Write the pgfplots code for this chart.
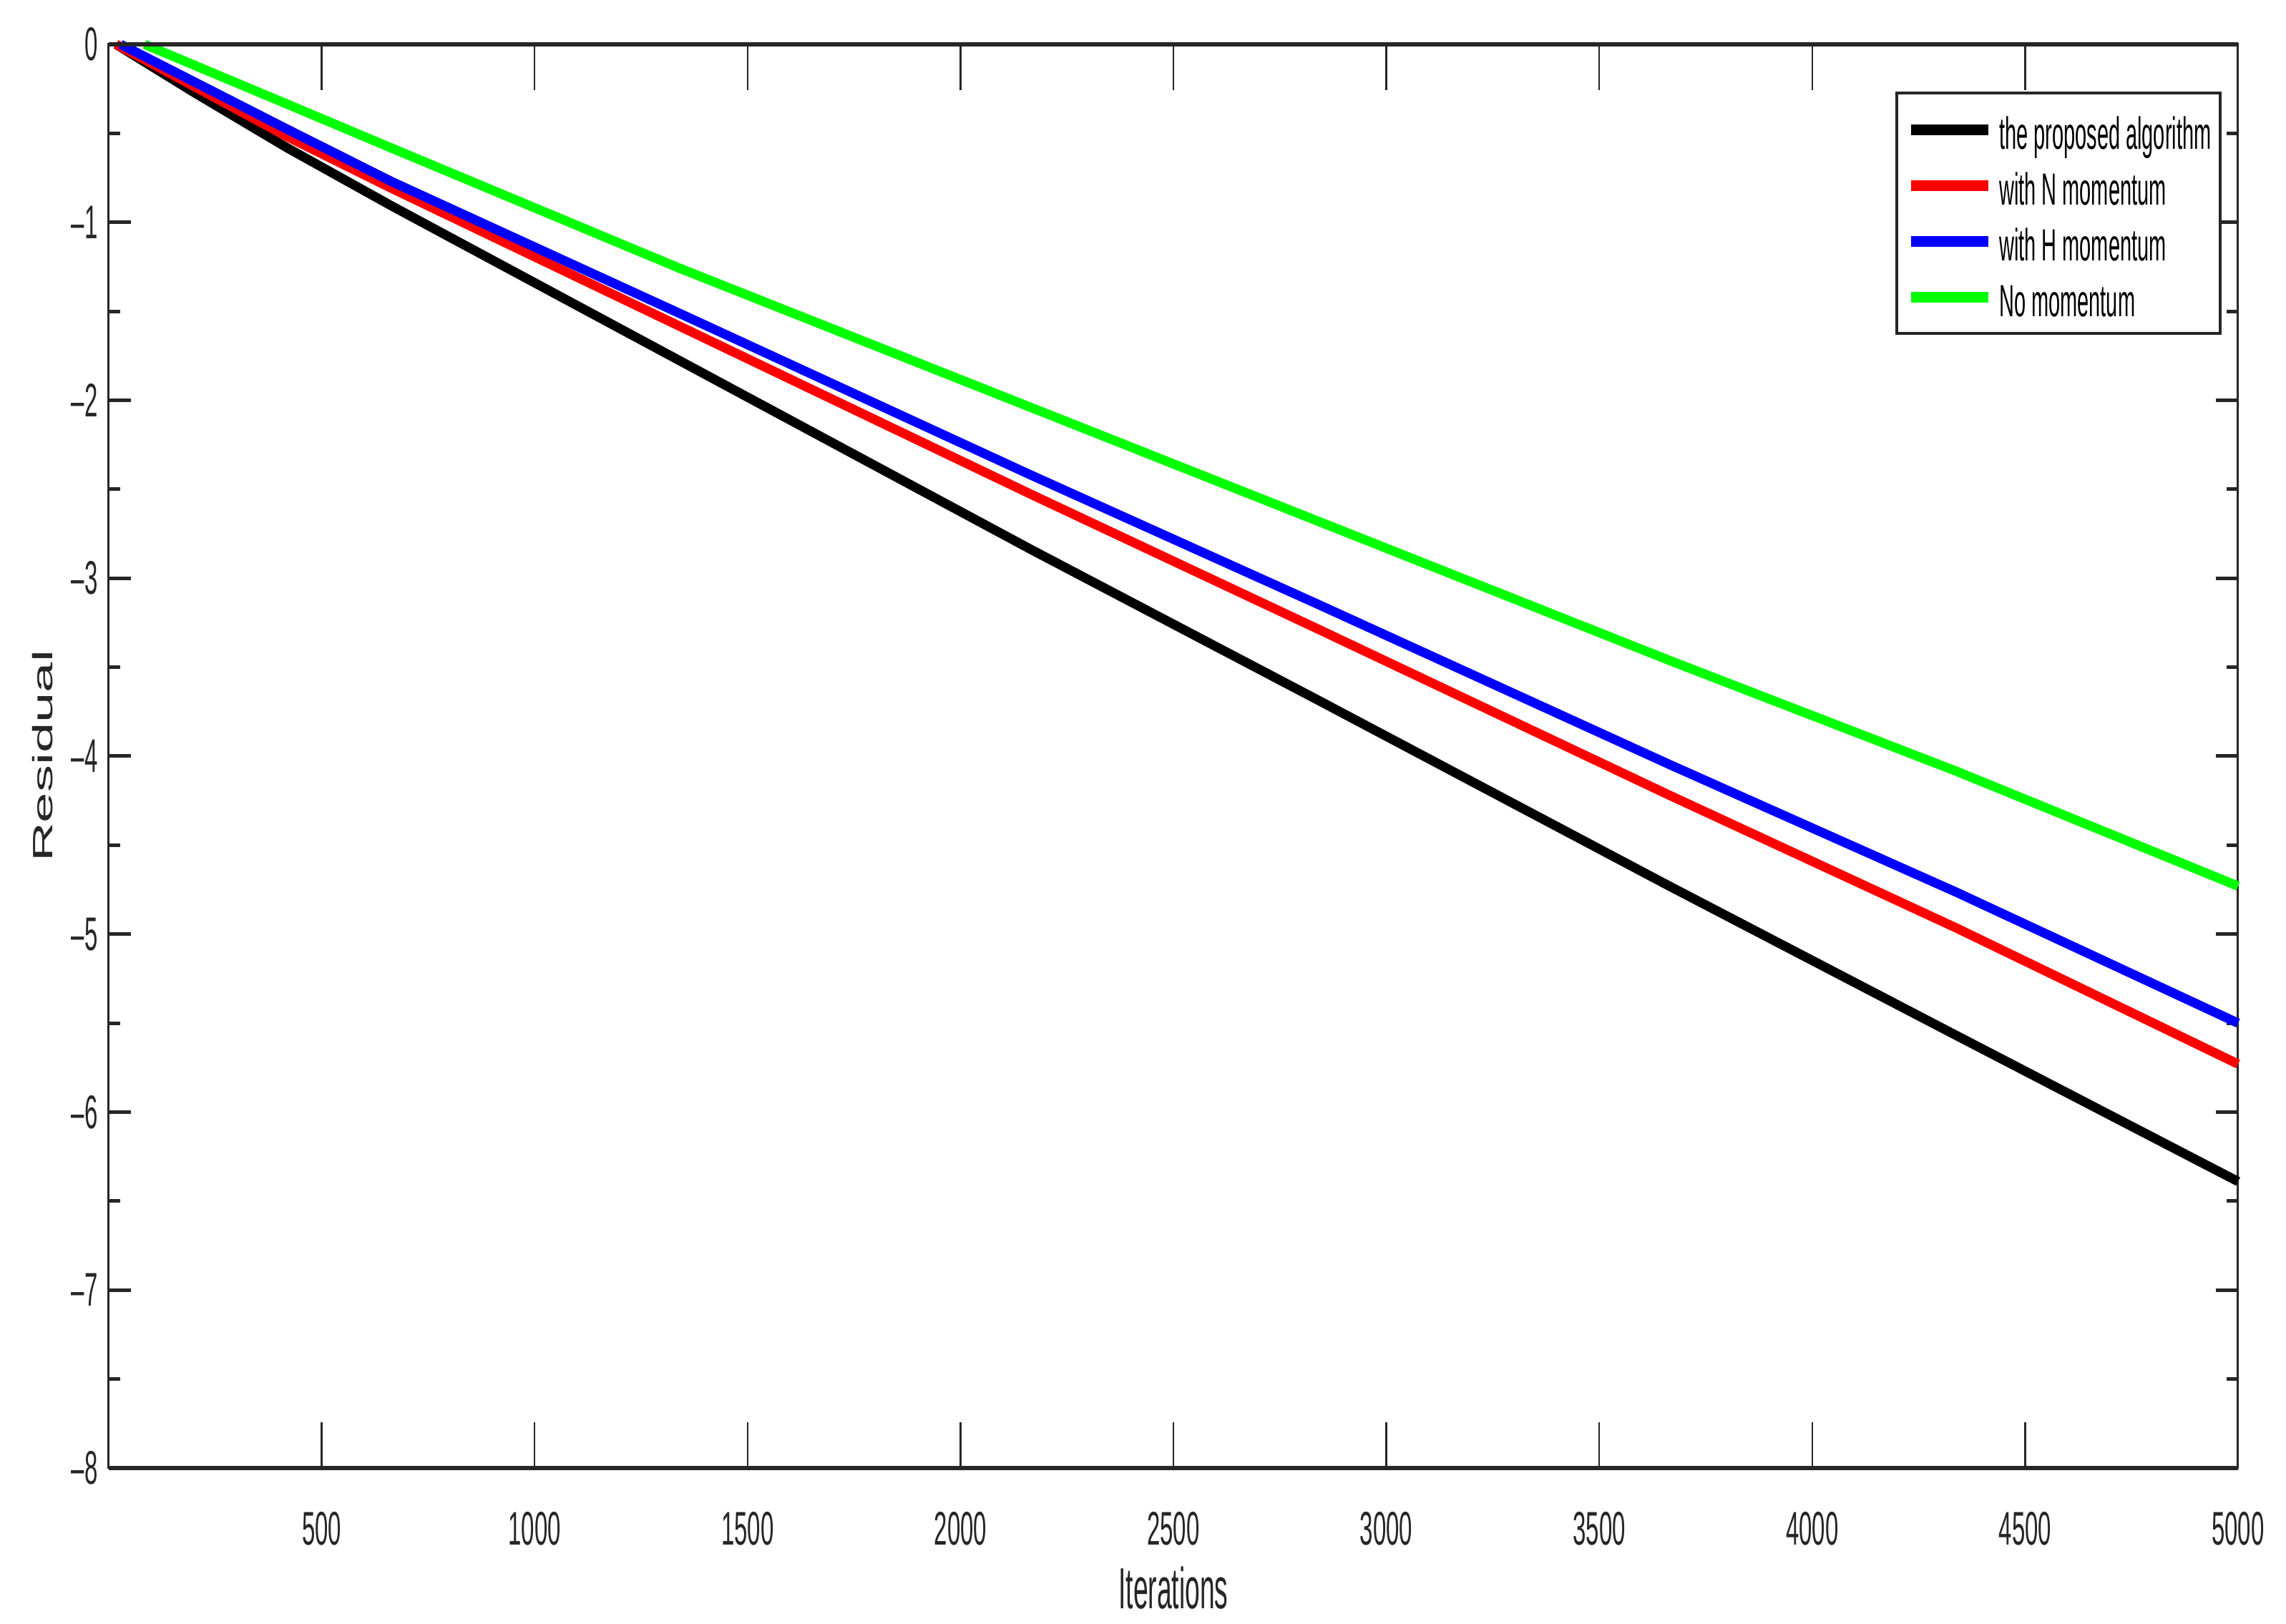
\documentclass[border=0pt]{standalone}
\usepackage{fontspec}
\setmainfont{Liberation Sans}[FakeStretch=0.46]
\newfontfamily\tickfont{Liberation Sans}[FakeStretch=0.5]
\newfontfamily\widefont{Liberation Sans}[FakeStretch=1.95]
\usepackage{pgfplots}
\pgfplotsset{compat=1.18}
\definecolor{axgray}{HTML}{262626}

\begin{document}
\begin{tikzpicture}
\path[use as bounding box] (-15.2pt,-21.8pt) rectangle (304.3pt,205.2pt);
% x ticks (long, thin) on their own axis
\begin{axis}[at={(0,0)}, anchor=south west, scale only axis,
  width=297.6pt, height=199pt, xmin=0, xmax=5000, ymin=-8, ymax=0,
  axis line style={draw=none}, ytick=\empty,
  xtick={500,1000,...,5000}, major tick length=6.4pt,
  every major tick/.append style={line width=0.25pt, axgray},
  xticklabel style={font=\tickfont\fontsize{6.6}{7}\selectfont, text=axgray, yshift=-2.6pt},
  /pgf/number format/1000 sep={}, /pgf/number format/assume math mode=true]
\end{axis}
% main axis
\begin{axis}[at={(0,0)}, anchor=south west, scale only axis,
  width=297.6pt, height=199pt, xmin=0, xmax=5000, ymin=-8, ymax=0,
  clip=false, xtick=\empty,
  ytick={-8,-7,...,0}, minor ytick={-7.5,-6.5,...,-0.5},
  yticklabels={\textendash8,\textendash7,\textendash6,\textendash5,\textendash4,\textendash3,\textendash2,\textendash1,0},
  major tick length=3.1pt, minor tick length=1.6pt,
  every major tick/.append style={line width=0.5pt, axgray},
  every minor tick/.append style={line width=0.5pt, axgray},
  axis line style={axgray, line width=0.3pt},
  yticklabel style={font=\tickfont\fontsize{6.6}{7}\selectfont, text=axgray, xshift=2pt},
  xlabel={Iterations}, ylabel={Residual},
  every axis x label/.style={at={(axis description cs:0.5,0)}, anchor=north, yshift=-13.6pt,
    inner sep=0pt, font=\fontsize{8.1}{9}\selectfont, text=axgray},
  every axis y label/.style={at={(axis description cs:-0.02554,0.5)}, rotate=90, anchor=south,
    inner sep=0pt, font=\widefont\fontsize{3.9}{4.5}\selectfont, text=axgray},
  extra description/.code={\draw[axgray, line width=0.55pt]
    (axis description cs:0,0) -- (axis description cs:1,0)
    (axis description cs:0,1) -- (axis description cs:1,1);},
  legend cell align=left,
  legend style={at={(axis description cs:0.8391,0.9668)}, anchor=north west,
    draw=axgray, line width=0.4pt, inner xsep=1.2pt, inner ysep=1.2pt,
    font=\fontsize{6.3}{7}\selectfont, column sep=0.8pt, row sep=0pt,
    nodes={inner xsep=0pt, inner ysep=1.1pt, text height=5.5pt, text depth=0.1pt}},
  legend image code/.code={\draw[#1, line width=1.5pt] (0pt,0pt) -- (10.8pt,0pt);}]
\addplot[black, line width=1.3pt] coordinates {(17,0) (200,-0.27) (420,-0.583) (665,-0.909)
  (1337,-1.773) (2166,-2.839) (2838,-3.683) (3667,-4.733) (4339,-5.57) (5000,-6.39)};
\addplot[red, line width=1.3pt] coordinates {(17,0) (420,-0.52) (665,-0.81) (1337,-1.58)
  (2166,-2.529) (2838,-3.284) (3667,-4.222) (4339,-4.966) (5000,-5.73)};
\addplot[blue, line width=1.3pt] coordinates {(28,0) (420,-0.478) (665,-0.772) (1337,-1.508)
  (2166,-2.421) (2838,-3.145) (3667,-4.049) (4339,-4.765) (5000,-5.50)};
\addplot[green, line width=1.3pt] coordinates {(84,0) (420,-0.337) (665,-0.584) (1337,-1.255)
  (2166,-2.041) (2838,-2.678) (3667,-3.464) (4339,-4.085) (5000,-4.73)};
\legend{the proposed algorithm, with N momentum, with H momentum, No momentum}
\end{axis}
\end{tikzpicture}
\end{document}
